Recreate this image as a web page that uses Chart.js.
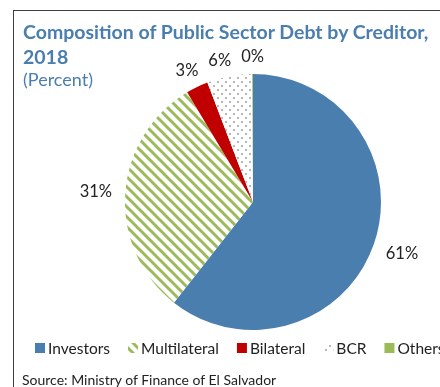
<!DOCTYPE html>
<html>
<head>
<meta charset="utf-8">
<script src="https://cdn.jsdelivr.net/npm/chart.js@4"></script>
<style>
  body { margin: 0; background: #fff; font-family: Lato, "Noto Sans", sans-serif; }
  #wrap { position: relative; width: 440px; height: 387px; overflow: hidden; }
  #frame { position: absolute; left: 13px; top: 10px; width: 500px; height: 400px;
           border-left: 1.5px solid #3f3f3f; border-top: 1.5px solid #3f3f3f; }
  #title { position: absolute; left: 23px; top: 19px; color: #4a7eb0; font-weight: bold;
           font-size: 19.5px; line-height: 25px; white-space: nowrap; }
  #sub { position: absolute; left: 23px; top: 68px; color: #4a7eb0; font-size: 18px; }
  #source { position: absolute; left: 22px; top: 371px; font-size: 14px; color: #222; white-space: nowrap; }
  canvas { position: absolute; left: 0; top: 0; }
</style>
</head>
<body>
<div id="wrap">
  <div id="frame"></div>
  <canvas id="chart" width="440" height="387"></canvas>
  <div id="title">Composition of Public Sector Debt by Creditor,<br>2018</div>
  <div id="sub">(Percent)</div>
  <div id="source">Source: Ministry of Finance of El Salvador</div>
</div>
<script>
// data
const categories = ["Investors", "Multilateral", "Bilateral", "BCR", "Others"];
const shares = [60.6, 30.8, 2.8, 5.7, 0.1];

// patterns
function stripePattern() {
  const c = document.createElement("canvas");
  c.width = c.height = 10;
  const g = c.getContext("2d");
  g.fillStyle = "#fff";
  g.fillRect(0, 0, 10, 10);
  g.strokeStyle = "#9bbb59";
  g.lineWidth = 3;
  for (let k = -1; k <= 1; k++) {
    g.beginPath();
    g.moveTo(k * 10 - 2, -2);
    g.lineTo(k * 10 + 12, 12);
    g.stroke();
  }
  return g.createPattern(c, "repeat");
}

function dotPattern() {
  const c = document.createElement("canvas");
  c.width = c.height = 8;
  const g = c.getContext("2d");
  g.fillStyle = "#fff";
  g.fillRect(0, 0, 8, 8);
  g.fillStyle = "#b8b8b8";
  g.fillRect(1, 1, 2, 2);
  g.fillRect(5, 5, 2, 2);
  return g.createPattern(c, "repeat");
}

const ctx = document.getElementById("chart").getContext("2d");
const colors = ["#4a7eaf", stripePattern(), "#c00000", dotPattern(), "#9bbb59"];

// labels + legend
const extras = {
  id: "extras",
  afterDraw(chart) {
    const c = chart.ctx;
    const meta = chart.getDatasetMeta(0);
    c.save();
    c.font = "16.5px Lato, 'Noto Sans', sans-serif";
    c.fillStyle = "#222";
    c.textAlign = "center";
    c.textBaseline = "middle";
    const pos = meta.data.map((arc, i) => {
      const p = arc.getProps(["x", "y", "startAngle", "endAngle", "outerRadius"], true);
      const mid = (p.startAngle + p.endAngle) / 2;
      const txt = Math.round(shares[i]) + "%";
      const w = c.measureText(txt).width;
      const dx = Math.cos(mid), dy = Math.sin(mid);
      const ext = Math.abs(dx) * w / 2 + Math.abs(dy) * 4;
      const r = p.outerRadius + 13 + ext;
      return { txt, w, x: p.x + dx * r, y: p.y + dy * r, top: dy < 0 };
    });
    // push crowded top labels apart (right to left)
    for (let i = pos.length - 2; i >= 0; i--) {
      const a = pos[i], b = pos[i + 1];
      if (!a.top || !b.top) continue;
      const maxX = b.x - b.w / 2 - 10 - a.w / 2;
      if (a.x > maxX) { a.x = maxX; a.y += 3; }
    }
    pos.forEach((l) => c.fillText(l.txt, l.x, l.y));

    // legend
    c.font = "15.5px Lato, 'Noto Sans', sans-serif";
    c.textAlign = "left";
    let x = 35;
    const y = 348;
    categories.forEach((name, i) => {
      c.fillStyle = colors[i];
      c.fillRect(x, y - 5, 10, 10);
      c.fillStyle = "#222";
      c.fillText(name, x + 13, y + 1);
      x += 13 + c.measureText(name).width + 18;
    });
    c.restore();
  }
};

new Chart(ctx, {
  type: "pie",
  data: {
    labels: categories,
    datasets: [{
      data: shares,
      backgroundColor: colors,
      borderWidth: 0
    }]
  },
  options: {
    responsive: false,
    animation: false,
    layout: { padding: { left: 125, right: 59, top: 74, bottom: 57 } },
    plugins: {
      legend: { display: false },
      tooltip: { enabled: false }
    }
  },
  plugins: [extras]
});
</script>
</body>
</html>
